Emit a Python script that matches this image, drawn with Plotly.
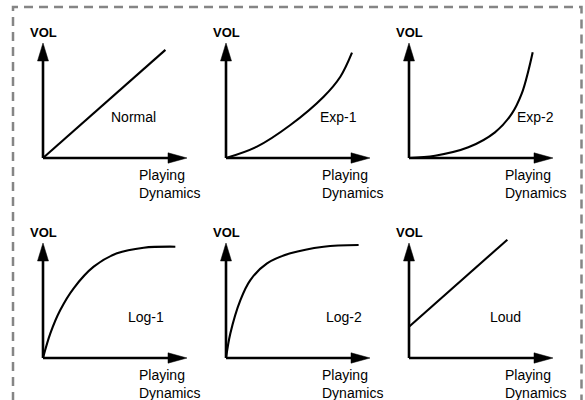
import plotly.graph_objects as go

# ---- data (axis units 0..100 = origin..arrow tip) ----
curve_names = ["Normal", "Exp-1", "Exp-2", "Log-1", "Log-2", "Loud"]

normal_x = [0, 85]
normal_y = [0, 94]

exp1_x = [0, 21.5, 44.7, 67.8, 79.4, 87.5]
exp1_y = [0, 9.9, 28.7, 53.3, 70.7, 91.6]

exp2_x = [0, 18.1, 41.2, 59.7, 71.3, 78.2, 82.9, 85.9]
exp2_y = [0, 2.0, 9.3, 22.3, 38.3, 55.7, 75.9, 91.9]

log1_x = [0, 5.1, 12.0, 21.3, 35.2, 51.4, 69.9, 91.9]
log1_y = [0, 21.4, 41.7, 60.6, 79.4, 91.0, 95.9, 96.8]

log2_x = [0, 3.0, 10.0, 16.9, 28.5, 44.7, 67.8, 92.1]
log2_y = [0, 21.4, 50.4, 67.8, 82.3, 91.0, 96.8, 98.3]

loud_x = [0, 68.3]
loud_y = [27.2, 102.9]

y_axis_label = "VOL"
x_axis_label = "Playing<br>Dynamics"

curves_x = [normal_x, exp1_x, exp2_x, log1_x, log2_x, loud_x]
curves_y = [normal_y, exp1_y, exp2_y, log1_y, log2_y, loud_y]

# ---- layout geometry ----
W, H = 585, 400
SX, SY = 1.44, 1.15            # px per axis unit
col_origin_px = [43, 226, 409]
row_origin_px = [158, 358]
label_pos = [(62.5, 35.7), (77.8, 35.7), (87.8, 35.7),
             (71.2, 35.7), (81.9, 35.7), (66.7, 35.7)]
LEFT, RIGHT, BELOW, ABOVE = 32, 172, 42, 132
FONT = "Liberation Sans, Arial, Helvetica, sans-serif"

fig = go.Figure()
shapes = []
annotations = []

for i, name in enumerate(curve_names):
    r, c = divmod(i, 3)
    ox, oy = col_origin_px[c], row_origin_px[r]
    xa = "xaxis" if i == 0 else f"xaxis{i+1}"
    ya = "yaxis" if i == 0 else f"yaxis{i+1}"
    xr = "x" if i == 0 else f"x{i+1}"
    yr = "y" if i == 0 else f"y{i+1}"
    fig.update_layout({
        xa: dict(domain=[(ox - LEFT) / W, (ox + RIGHT) / W],
                 range=[-LEFT / SX, RIGHT / SX], visible=False,
                 anchor=yr, fixedrange=True),
        ya: dict(domain=[1 - (oy + BELOW) / H, 1 - (oy - ABOVE) / H],
                 range=[-BELOW / SY, ABOVE / SY], visible=False,
                 anchor=xr, fixedrange=True),
    })
    # axis lines
    ah_len_x, ah_half_x = 19 / SX, 5.2 / SY
    ah_len_y, ah_half_y = 18 / SY, 5.5 / SX
    fig.add_trace(go.Scatter(x=[0, 100 - ah_len_x + 1], y=[0, 0], mode="lines",
                             line=dict(color="black", width=2.6),
                             xaxis=xr, yaxis=yr, hoverinfo="skip", showlegend=False))
    fig.add_trace(go.Scatter(x=[0, 0], y=[0, 100 - ah_len_y + 1], mode="lines",
                             line=dict(color="black", width=2.6),
                             xaxis=xr, yaxis=yr, hoverinfo="skip", showlegend=False))
    # arrow heads
    fig.add_trace(go.Scatter(x=[100, 100 - ah_len_x, 100 - ah_len_x, 100],
                             y=[0, ah_half_x, -ah_half_x, 0],
                             mode="lines", fill="toself", fillcolor="black",
                             line=dict(color="black", width=0.5),
                             xaxis=xr, yaxis=yr, hoverinfo="skip", showlegend=False))
    fig.add_trace(go.Scatter(x=[0, ah_half_y, -ah_half_y, 0],
                             y=[100, 100 - ah_len_y, 100 - ah_len_y, 100],
                             mode="lines", fill="toself", fillcolor="black",
                             line=dict(color="black", width=0.5),
                             xaxis=xr, yaxis=yr, hoverinfo="skip", showlegend=False))
    # curve
    fig.add_trace(go.Scatter(x=curves_x[i], y=curves_y[i], mode="lines",
                             line=dict(color="black", width=2.1, shape="spline"),
                             name=name, xaxis=xr, yaxis=yr, showlegend=False))
    # texts
    annotations.append(dict(text="<b>" + y_axis_label + "</b>", x=0, y=(158 - 33) / SY,
                            xref=xr, yref=yr,
                            showarrow=False, xanchor="center", yanchor="middle",
                            font=dict(size=13, color="black", family=FONT)))
    annotations.append(dict(text=name, x=label_pos[i][0], y=label_pos[i][1],
                            xref=xr, yref=yr, showarrow=False,
                            xanchor="center", yanchor="middle",
                            font=dict(size=14, color="black", family=FONT)))
    annotations.append(dict(text=x_axis_label, x=94 / SX, y=-26 / SY,
                            xref=xr, yref=yr, showarrow=False, align="left",
                            xanchor="left", yanchor="middle",
                            font=dict(size=14, color="black", family=FONT)))

# dashed border
shapes.append(dict(type="rect", xref="paper", yref="paper",
                   x0=13 / W, x1=581.5 / W, y0=-0.05, y1=1 - 7 / H,
                   line=dict(color="#858585", width=2.5, dash="9px,6px")))

fig.update_layout(width=W, height=H, margin=dict(l=0, r=0, t=0, b=0),
                  paper_bgcolor="white", plot_bgcolor="rgba(0,0,0,0)",
                  shapes=shapes, annotations=annotations, showlegend=False)

fig.write_html("out.html",
               config={"displayModeBar": False, "staticPlot": True},
               post_script="document.body.style.margin='0px';"
                           "document.body.style.overflow='hidden';")
